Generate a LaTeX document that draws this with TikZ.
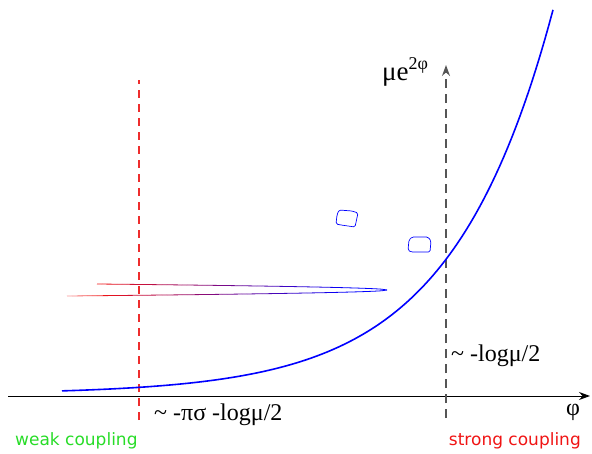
\documentclass[tikz,border=0pt]{standalone}
\usepackage{fontspec}
\setmainfont{Liberation Serif}
\setsansfont{DejaVu Sans}
\usetikzlibrary{arrows.meta}
\definecolor{curveC}{RGB}{0,0,255}
\definecolor{weakC}{RGB}{40,220,40}
\definecolor{strongC}{RGB}{240,20,20}
\definecolor{dashR}{RGB}{238,45,45}
\definecolor{dashG}{RGB}{85,85,85}

\begin{document}
\begin{tikzpicture}[x=1pt, y=1pt,
  lbl/.style={font=\fontsize{24}{24}\selectfont, inner sep=1pt},
  reg/.style={font=\sffamily\fontsize{17}{17}\selectfont, inner sep=0pt},
  arr/.style={-{Stealth[length=11pt, width=8pt]}, line width=1pt},
  blob/.style={draw=curveC, line width=0.7pt, rounded corners=1.5pt},
]
\useasboundingbox (0,0) rectangle (592,453);

% ---------- axes ----------
\coordinate (xstart) at (8,57);
\coordinate (xend) at (590,57);
\draw[arr] (xstart) -- (xend);

\coordinate (sbot) at (446,35);
\coordinate (stop) at (446,388);
\draw[arr, dash pattern=on 9pt off 6pt, color=dashG, line width=1.2pt] (sbot) -- (stop);

\coordinate (wbot) at (139,33);
\coordinate (wtop) at (139,373);
\draw[draw=dashR, dash pattern=on 8pt off 6pt, line width=1.1pt] (wbot) -- (wtop);

% ---------- exponential curve ----------
\draw[curveC, line width=1.6pt] plot[domain=62:553, samples=120]
  (\x, {59+136*exp(0.0098*(\x-447))});

% ---------- hairpin (red to blue) ----------
\foreach \i in {0,...,57}{
  \pgfmathsetmacro{\xa}{97+\i*5}
  \pgfmathsetmacro{\xb}{97+(\i+1)*5}
  \pgfmathsetmacro{\mixv}{min(100,\i*2)}
  \pgfmathsetmacro{\ya}{163+6*sqrt((387-\xa)/290)}
  \pgfmathsetmacro{\yb}{163+6*sqrt((387-\xb)/290)}
  \draw[color=curveC!\mixv!strongC, line width=0.8pt] (\xa,\ya) -- (\xb,\yb);
}
\foreach \i in {0,...,63}{
  \pgfmathsetmacro{\xa}{67+\i*5}
  \pgfmathsetmacro{\xb}{67+(\i+1)*5}
  \pgfmathsetmacro{\mixv}{min(100,max(0,\i*2-12))}
  \pgfmathsetmacro{\fadev}{min(100,45+\i*8)}
  \pgfmathsetmacro{\ya}{163-6*sqrt((387-\xa)/320)}
  \pgfmathsetmacro{\yb}{163-6*sqrt((387-\xb)/320)}
  \draw[color=curveC!\mixv!strongC!\fadev!white, line width=0.8pt] (\xa,\ya) -- (\xb,\yb);
}

% ---------- small loops ----------
\draw[blob] (337,238) -- (339,243) -- (352,242) -- (358,240) -- (355,226) -- (341,228) -- (336,229) -- cycle;
\draw[blob] (409,213) -- (412,216) -- (428,216) -- (431,212) -- (430,201) -- (411,201) -- (408,203) -- cycle;

% ---------- labels ----------
\node[lbl, font=\fontsize{27}{27}\selectfont] (ylabel) at (405,381) {μe\raisebox{11pt}{\fontsize{18}{18}\selectfont 2φ}};
\node[lbl, anchor=west] (slabel) at (450,97) {\textasciitilde{} -logμ/2};
\node[lbl, anchor=west] (wlabel) at (153,38) {\textasciitilde{} -πσ -logμ/2};
\node[lbl] (xlabel) at (573,41) {φ};
\node[reg, anchor=west, color=weakC] (weak) at (15,12) {weak coupling};
\node[reg, anchor=east, color=strongC] (strong) at (581,12) {strong coupling};

\end{tikzpicture}
\end{document}
